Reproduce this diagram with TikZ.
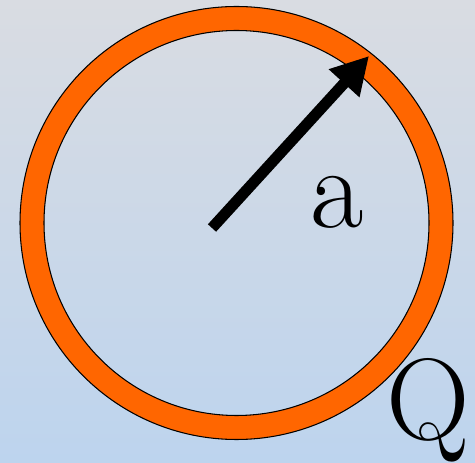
\documentclass[tikz,border=0pt]{standalone}
\usetikzlibrary{arrows.meta}
\definecolor{ringorange}{RGB}{255,102,0}
\definecolor{bgtop}{RGB}{217,220,226}
\definecolor{bgbottom}{RGB}{189,212,238}

\begin{document}
\begin{tikzpicture}[>=Stealth, font=\fontsize{66}{66}\selectfont]
  \def\ro{4.33} % outer radius
  \def\ri{3.85} % inner radius

  % Background
  \shade[top color=bgtop, bottom color=bgbottom] (0,0) rectangle (9.5,9.24);
  \useasboundingbox (0,0) rectangle (9.5,9.24);

  % Charged ring
  \coordinate (centre) at (4.73,4.78);
  \fill[ringorange, even odd rule] (centre) circle (\ro) (centre) circle (\ri);
  \draw[line width=0.6pt] (centre) circle (\ro);
  \draw[line width=0.6pt] (centre) circle (\ri);

  % Radius arrow
  \coordinate (tail) at (4.24,4.68);
  \coordinate (tip) at (7.38,8.12);
  \draw[line width=6.3pt, -{Triangle[length=0.74cm, width=0.78cm]}] (tail) -- (tip);

  % Labels
  \node[anchor=base] (radius) at (6.75,4.68) {a};
  \node[anchor=base] (charge) at (8.56,0.44) {Q};
\end{tikzpicture}
\end{document}
